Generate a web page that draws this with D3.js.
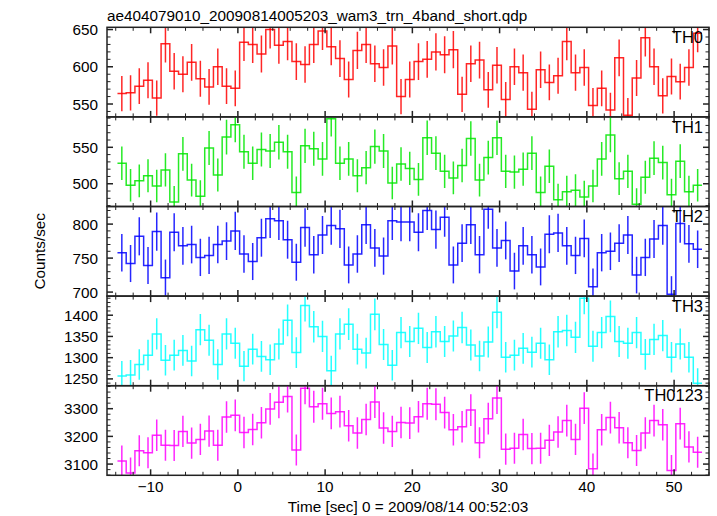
<!DOCTYPE html>
<html><head><meta charset="utf-8">
<script src="https://cdn.jsdelivr.net/npm/d3@7"></script>
<style>
body{margin:0;background:#fff}
svg{display:block}
text{font-family:"Liberation Sans",Arial,Helvetica,sans-serif;fill:#000}
</style>
</head><body>
<svg id="chart" width="717" height="516"></svg>
<script>
const titleText = "ae404079010_20090814005203_wam3_trn_4band_short.qdp";
const xAxisLabel = "Time [sec] 0 = 2009/08/14 00:52:03";
const yAxisLabel = "Counts/sec";
const panelNames = ["TH0", "TH1", "TH2", "TH3", "TH0123"];
const firstBinCenter = -13.3;
const binWidth = 1.0;
const xTickLabels = [-10, 0, 10, 20, 30, 40, 50];

const th0 = [564,565,574,582,558,631,594,590,606,584,573,600,574,571,633,630,617,650,629,634,
607,603,630,648,627,611,583,622,630,604,599,628,560,583,607,610,620,616,623,563,
604,609,569,602,556,600,592,543,596,579,588,634,592,599,548,571,542,612,535,585,
639,600,561,587,580,599,645];
const th1 = [528,498,504,511,497,519,475,541,505,483,549,512,564,581,544,528,547,545,557,544,
488,552,548,534,589,528,534,511,522,551,545,501,527,521,506,563,542,517,508,525,
562,505,536,563,517,516,520,542,488,524,478,489,491,482,497,534,567,507,517,472,
509,535,529,485,531,489,498];
const th2 = [758,742,782,739,789,721,788,768,770,751,754,770,775,790,756,745,780,808,805,777,
744,795,755,784,798,793,740,756,799,765,753,805,803,803,788,820,792,810,740,772,
799,755,822,765,776,731,768,755,737,785,787,768,754,779,708,758,760,772,784,725,
751,778,798,697,801,771,763];
const th3 = [1257,1259,1284,1306,1356,1294,1306,1317,1292,1366,1341,1284,1356,1334,1280,1320,1303,1295,1332,1388,
1312,1423,1373,1350,1269,1356,1379,1320,1311,1402,1331,1282,1359,1338,1369,1324,1361,1338,1351,1371,
1330,1304,1337,1407,1301,1306,1322,1313,1334,1295,1361,1364,1348,1440,1327,1359,1397,1338,1334,1359,
1308,1343,1352,1301,1332,1301,1240];
const th0123 = [3111,3068,3148,3141,3204,3168,3167,3218,3176,3189,3219,3168,3270,3276,3214,3225,3249,3299,3323,3344,
3151,3374,3307,3318,3283,3289,3238,3212,3261,3324,3230,3218,3250,3248,3271,3318,3316,3286,3224,3235,
3295,3177,3264,3339,3154,3157,3207,3156,3157,3186,3216,3257,3189,3302,3083,3224,3268,3231,3177,3149,
3212,3257,3242,3077,3246,3162,3143];

const seriesValues = [th0, th1, th2, th3, th0123];
const panelColors = ["#ff0000", "#00e600", "#0000ff", "#00ffff", "#ff00ff"];
const panelDomains = [[532.7, 653], [468.8, 591.7], [694.1, 825.9], [1234, 1445], [3059.5, 3383]];
const panelMajor = [50, 50, 50, 50, 100];
const panelMinor = [10, 10, 10, 10, 20];

const svg = d3.select("#chart");
const plotLeft = 107, plotRight = 709, plotTop = 27.3, panelH = 89.6;
const x = d3.scaleLinear().domain([-15, 54]).range([plotLeft, plotRight]);
const frameColor = "#222";

svg.append("text").attr("x", 107).attr("y", 20.5).attr("font-size", 15.3).text(titleText);

const defs = svg.append("defs");

seriesValues.forEach((vals, p) => {
  const y0 = plotTop + p * panelH, y1 = y0 + panelH;
  const y = d3.scaleLinear().domain(panelDomains[p]).range([y1, y0]);
  const g = svg.append("g");
  const clipId = "clip" + p;
  defs.append("clipPath").attr("id", clipId).append("rect")
    .attr("x", plotLeft).attr("y", y0).attr("width", plotRight - plotLeft).attr("height", panelH);

  const pts = vals.map((v, i) => ({t: firstBinCenter + i * binWidth - binWidth / 2, v}));
  pts.push({t: firstBinCenter + (vals.length - 1) * binWidth + binWidth / 2, v: vals[vals.length - 1]});
  const dg = g.append("g").attr("clip-path", `url(#${clipId})`);
  dg.selectAll("line.err").data(vals).join("line")
    .attr("x1", (v, i) => x(firstBinCenter + i * binWidth))
    .attr("x2", (v, i) => x(firstBinCenter + i * binWidth))
    .attr("y1", v => y(v - Math.sqrt(v)))
    .attr("y2", v => y(v + Math.sqrt(v)))
    .attr("stroke", panelColors[p]).attr("stroke-width", 1.5).attr("stroke-opacity", 0.85);
  const line = d3.line().x(d => x(d.t)).y(d => y(d.v)).curve(d3.curveStepAfter);
  dg.append("path").attr("d", line(pts)).attr("fill", "none")
    .attr("stroke", panelColors[p]).attr("stroke-width", 1.5).attr("stroke-opacity", 0.85);

  const xMinor = d3.range(-14, 55, 2);
  xMinor.forEach(t => {
    const major = t % 10 === 0;
    const len = major ? 6 : 3.5;
    g.append("line").attr("x1", x(t)).attr("x2", x(t)).attr("y1", y0).attr("y2", y0 + len)
      .attr("stroke", frameColor).attr("stroke-width", major ? 1.5 : 1);
    g.append("line").attr("x1", x(t)).attr("x2", x(t)).attr("y1", y1).attr("y2", y1 - len)
      .attr("stroke", frameColor).attr("stroke-width", major ? 1.5 : 1);
  });
  const [d0, d1] = panelDomains[p];
  const minor = panelMinor[p], majorStep = panelMajor[p];
  d3.range(Math.ceil(d0 / minor) * minor, d1 + 1e-9, minor).forEach(v => {
    const major = Math.abs(v % majorStep) < 1e-6;
    const len = major ? 6 : 3.5;
    g.append("line").attr("x1", plotLeft).attr("x2", plotLeft + len).attr("y1", y(v)).attr("y2", y(v))
      .attr("stroke", frameColor).attr("stroke-width", major ? 1.5 : 1);
    g.append("line").attr("x1", plotRight).attr("x2", plotRight - len).attr("y1", y(v)).attr("y2", y(v))
      .attr("stroke", frameColor).attr("stroke-width", major ? 1.5 : 1);
    if (major) {
      g.append("text").attr("x", 98).attr("y", y(v)).attr("dy", "0.36em")
        .attr("text-anchor", "end").attr("font-size", 15.3).text(v);
    }
  });
  g.append("rect").attr("x", plotLeft).attr("y", y0).attr("width", plotRight - plotLeft).attr("height", panelH)
    .attr("fill", "none").attr("stroke", frameColor).attr("stroke-width", 1.5);
  g.append("text").attr("x", 703).attr("y", y0 + 15.6).attr("text-anchor", "end")
    .attr("font-size", 16.5).text(panelNames[p]);
});

const plotBottom = plotTop + 5 * panelH;
xTickLabels.forEach(t => {
  svg.append("text").attr("x", x(t)).attr("y", plotBottom + 16.5).attr("text-anchor", "middle")
    .attr("font-size", 15.3).text(t < 0 ? "\u2212" + Math.abs(t) : t);
});
svg.append("text").attr("x", (plotLeft + plotRight) / 2).attr("y", plotBottom + 37)
  .attr("text-anchor", "middle").attr("font-size", 15.3).text(xAxisLabel);
svg.append("text").attr("transform", `translate(45,${(plotTop + plotBottom) / 2}) rotate(-90)`)
  .attr("text-anchor", "middle").attr("font-size", 15.3).text(yAxisLabel);
</script>
</body></html>
